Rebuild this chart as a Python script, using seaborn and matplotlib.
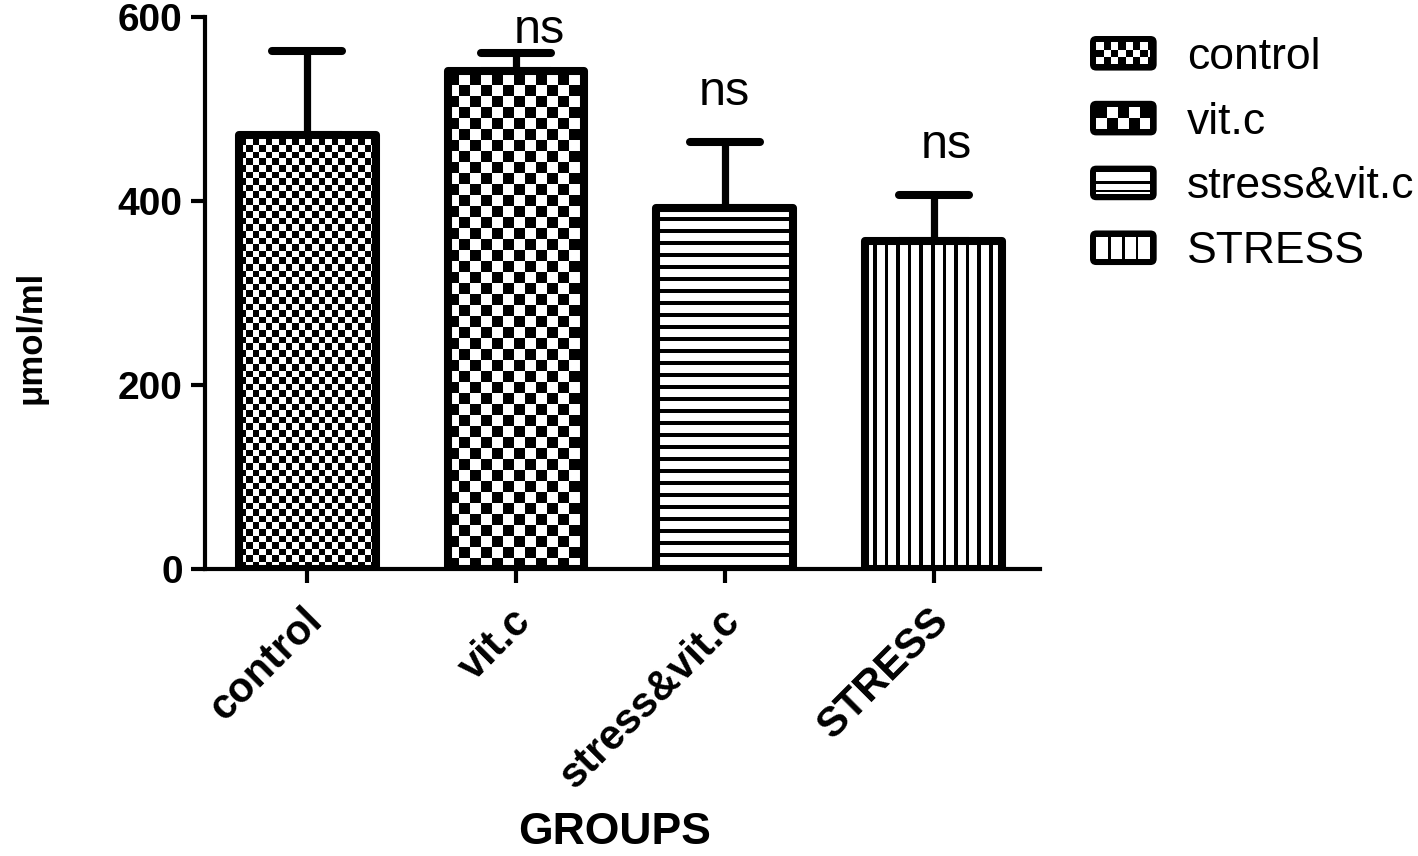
import numpy as np
import pandas as pd
import matplotlib
matplotlib.use("Agg")
import matplotlib.pyplot as plt
import seaborn as sns
from matplotlib.patches import Rectangle, FancyBboxPatch
from matplotlib.legend_handler import HandlerBase
from matplotlib.markers import MarkerStyle
from matplotlib.transforms import ScaledTranslation

# ---------------- data ----------------
groups = ["control", "vit.c", "stress&vit.c", "STRESS"]
means = [472, 541, 392, 357]
err_up = [91, 20, 72, 49]
sig_labels = ["", "ns", "ns", "ns"]
y_ticks = [0, 200, 400, 600]
fill_kinds = ["fine_checker", "coarse_checker", "hlines", "vlines"]

# ---------------- layout / style ----------------
sig_dy = [0, 11, 40, 41]          # gap above the cap (data units)
sig_dx = [0, 0.11, 0.0, 0.06]     # small horizontal shift (category units)

sns.set_theme(style="ticks", rc={
    "axes.edgecolor": "black", "text.color": "black", "axes.labelcolor": "black",
    "xtick.color": "black", "ytick.color": "black", "axes.facecolor": "white",
    "figure.facecolor": "white"})
plt.rcParams["font.family"] = ["Liberation Sans", "DejaVu Sans"]

DPI = 100
W, H = 1418, 856
fig = plt.figure(figsize=(W / DPI, H / DPI), dpi=DPI)
ax = fig.add_axes([205 / W, 1 - 569 / H, (1040 - 205) / W, (569 - 17) / H])

df = pd.DataFrame({"group": groups, "value": means})
sns.barplot(data=df, x="group", y="value", order=groups, color="white",
            saturation=1, edgecolor="black", linewidth=5.8, width=0.655,
            errorbar=None, ax=ax, zorder=3)

ax.set_xlim(-0.49, 3.51)
ax.set_ylim(0, 600)

# error bars (upper only)
eb = ax.errorbar(np.arange(len(groups)), means,
                 yerr=[np.zeros(len(groups)), err_up], fmt="none",
                 ecolor="black", elinewidth=5.2, capsize=25, capthick=5.8,
                 zorder=1)
for cl in eb[1]:
    cl.set_marker(MarkerStyle("_", capstyle="round"))
for lc in eb[2]:
    lc.set_capstyle("round")


def pattern_array(kind, wpx, hpx):
    ii, jj = np.mgrid[0:hpx, 0:wpx]
    ib = hpx - 1 - ii
    if kind == "fine_checker":
        c = 6.6
        return ((np.floor(ib / c) + np.floor(jj / c)) % 2).astype(float)
    if kind == "coarse_checker":
        c = 11.0
        return ((np.floor(ib / c) + np.floor(jj / c)) % 2).astype(float)
    if kind == "hlines":
        p, t = 12.0, 3.2
        return ((ib % p) >= t).astype(float)
    p, t = 11.6, 3.6
    return (((jj + 4) % p) >= t).astype(float)


# fill bars with patterns
bars = [p for p in ax.patches if isinstance(p, Rectangle)][:len(groups)]
for patch, kind in zip(bars, fill_kinds):
    patch.set_joinstyle("round")
    patch.set_facecolor("none")
    x0, w, h = patch.get_x(), patch.get_width(), patch.get_height()
    p0 = ax.transData.transform((x0, 0))
    p1 = ax.transData.transform((x0 + w, h))
    wpx = max(int(round(p1[0] - p0[0])), 2)
    hpx = max(int(round(p1[1] - p0[1])), 2)
    arr = pattern_array(kind, wpx, hpx)
    im = ax.imshow(arr, cmap="gray", vmin=0, vmax=1, extent=(x0, x0 + w, 0, h),
                   aspect="auto", interpolation="nearest", zorder=2)
    im.set_clip_path(patch)

ax.set_xlim(-0.49, 3.51)
ax.set_ylim(0, 600)

# significance labels
for i, lab in enumerate(sig_labels):
    if lab:
        ax.text(i + sig_dx[i], means[i] + err_up[i] + sig_dy[i], lab,
                ha="center", va="baseline", fontsize=35, clip_on=False)

# axes styling
sns.despine(ax=ax)
for s in ["left", "bottom"]:
    ax.spines[s].set_linewidth(3)
    ax.spines[s].set_color("black")
ax.set_yticks(y_ticks)
ax.set_yticklabels([str(v) for v in y_ticks], fontsize=28, fontweight="bold")
ax.set_xticks(range(len(groups)))
ax.set_xticklabels(groups, fontsize=30, fontweight="bold", rotation=45,
                   ha="right", va="center", rotation_mode="anchor")
ax.tick_params(axis="both", length=10, width=3, direction="out")
ax.tick_params(axis="y", pad=6)
ax.tick_params(axis="x", pad=23)
off = ScaledTranslation(9 / DPI, 0, fig.dpi_scale_trans)
for lbl in ax.get_xticklabels():
    lbl.set_transform(lbl.get_transform() + off)

ax.set_xlabel("")
ax.set_ylabel("μmol/ml", fontsize=25, fontweight="bold")
ax.yaxis.set_label_coords(-0.189, 0.42)
fig.text(615 / W, 12 / H, "GROUPS", ha="center", va="baseline",
         fontsize=32, fontweight="bold")


# legend with patterned handles
class PatternHandler(HandlerBase):
    def create_artists(self, legend, orig_handle, xdescent, ydescent,
                       width, height, fontsize, trans):
        kind = orig_handle.get_gid()
        x0, y0 = -xdescent, -ydescent
        arts = [FancyBboxPatch((x0, y0), width, height,
                               boxstyle="round,pad=0,rounding_size=%f" % (height * 0.18),
                               fc="black", ec="black", lw=0, transform=trans)]
        pad = height * 0.18
        ix, iy = x0 + pad, y0 + pad
        iw, ih = width - 2 * pad, height - 2 * pad
        arts.append(Rectangle((ix, iy), iw, ih, fc="white", ec="none", transform=trans))
        if kind in ("fine_checker", "coarse_checker"):
            nrow = 3 if kind == "fine_checker" else 2
            c = ih / nrow
            ncol = int(np.ceil(iw / c))
            for r in range(nrow):
                for q in range(ncol):
                    if (r + q) % 2 == 1:
                        cw = min(c, iw - q * c)
                        if cw > 0:
                            arts.append(Rectangle((ix + q * c, iy + r * c), cw, c,
                                                  fc="black", ec="none", transform=trans))
        elif kind == "hlines":
            t = ih * 0.14
            arts.append(Rectangle((ix, iy + ih * 0.5 - t / 2), iw, t,
                                  fc="black", ec="none", transform=trans))
            arts.append(Rectangle((ix, iy + ih * 0.1), iw, t * 0.6,
                                  fc="black", ec="none", transform=trans))
        else:
            t = iw * 0.05
            for fr in (0.25, 0.5, 0.75):
                arts.append(Rectangle((ix + iw * fr - t / 2, iy), t, ih,
                                      fc="black", ec="none", transform=trans))
        return arts


handles = []
for kind in fill_kinds:
    h = Rectangle((0, 0), 1, 1)
    h.set_gid(kind)
    handles.append(h)
fig.legend(handles, groups, handler_map={h: PatternHandler() for h in handles},
           loc="upper left", bbox_to_anchor=(1090 / W, 1 - 36 / H),
           frameon=False, borderpad=0, borderaxespad=0, handlelength=1.5,
           handleheight=0.82, handletextpad=0.68, labelspacing=0.52,
           prop={"family": ["Liberation Sans", "DejaVu Sans"], "size": 32})

fig.savefig("out.png", dpi=DPI)
